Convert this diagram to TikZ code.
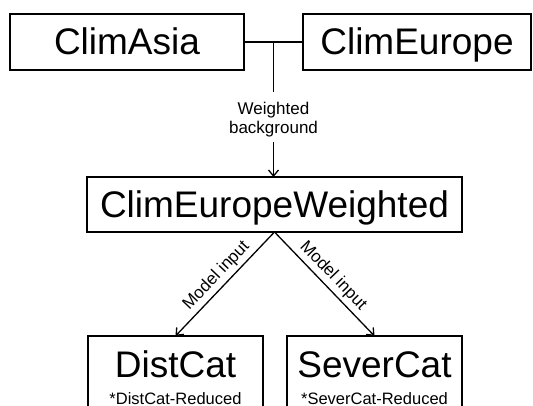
\documentclass[tikz,border=0pt]{standalone}
\usepackage{fontspec}
\setmainfont{Liberation Sans}
\usetikzlibrary{arrows.meta, positioning, calc}

\begin{document}
\begin{tikzpicture}[
	x=1pt, y=1pt,
	block/.style={rectangle, draw, line width=2.6pt, inner sep=0pt, outer sep=0pt, minimum height=56pt, text height=32pt, text depth=6pt, font=\fontsize{37}{40}\selectfont},
	catblock/.style={rectangle, draw, line width=2.6pt, inner sep=0pt, outer sep=0pt, minimum width=175pt, minimum height=84pt, align=center, font=\fontsize{37}{27}\selectfont},
	arr/.style={-{Straight Barb[length=6pt, width=10pt]}, line width=1.3pt},
	lbl/.style={font=\fontsize{17}{19}\selectfont, align=center}
	]
	\useasboundingbox (0,0) rectangle (533,406);
	\node[block, minimum width=234pt] (asia) at (127,364) {ClimAsia};
	\node[block, minimum width=228pt, right=59pt of asia] (europe) {ClimEurope};
	\node[block, minimum width=375pt, minimum height=55pt] (weighted) at (274.5,201.5) {ClimEuropeWeighted};
	\node[catblock] (dist) at (175.5,28) {DistCat\\\fontsize{16.5}{27}\selectfont *DistCat-Reduced};
	\node[catblock, right=24pt of dist] (sever) {SeverCat\\\fontsize{16.5}{27}\selectfont *SeverCat-Reduced};
	
	% Asia + Europe joined
	\coordinate (join) at ($(asia.east)!0.5!(europe.west)$);
	\draw[line width=1.3pt] (asia.east) -- (europe.west);
	\node[lbl, inner sep=5pt, below=50pt of join, anchor=north] (wbg) {\rule{0pt}{17pt}Weighted\\background};
	\draw[line width=1.3pt] (join) -- (wbg.north);
	% weighted background -> ClimEuropeWeighted
	\draw[arr] (wbg.south) -- (wbg.south |- weighted.north);
	% model inputs
	\draw[arr] (weighted.south) -- node[lbl, sloped, above] {Model input} (dist.north);
	\draw[arr] (weighted.south) -- node[lbl, sloped, above] {Model input} (sever.north);
\end{tikzpicture}
\end{document}
